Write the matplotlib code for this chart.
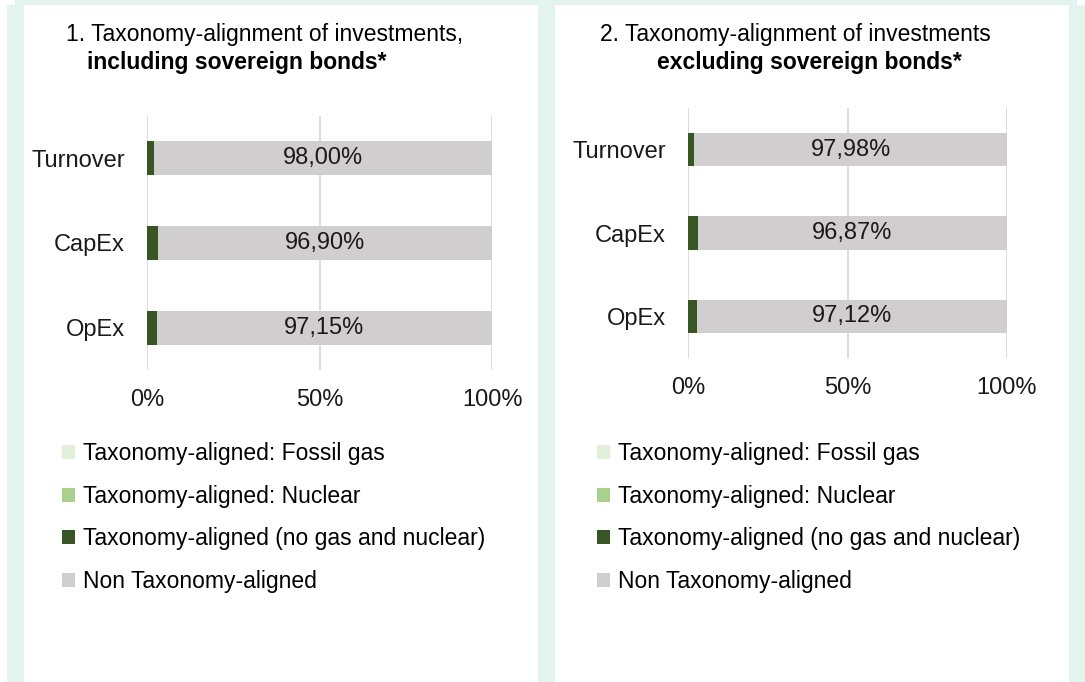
import matplotlib.pyplot as plt
from matplotlib.patches import Rectangle

plt.rcParams['font.family'] = ['Liberation Sans', 'DejaVu Sans']

# data
categories = ['Turnover', 'CapEx', 'OpEx']
series_names = ['Taxonomy-aligned: Fossil gas', 'Taxonomy-aligned: Nuclear',
                'Taxonomy-aligned (no gas and nuclear)', 'Non Taxonomy-aligned']
colors = ['#e2efda', '#a9d18e', '#375623', '#d0cece']

incl_gas = [0.0, 0.0, 0.0]
incl_nuclear = [0.0, 0.0, 0.0]
incl_aligned = [2.00, 3.10, 2.85]
incl_non = [98.00, 96.90, 97.15]

excl_gas = [0.0, 0.0, 0.0]
excl_nuclear = [0.0, 0.0, 0.0]
excl_aligned = [2.02, 3.13, 2.88]
excl_non = [97.98, 96.87, 97.12]

x_ticks = [0, 50, 100]
x_tick_labels = ['0%', '50%', '100%']

W, H = 1085, 682
fig = plt.figure(figsize=(W / 100, H / 100), dpi=100)
mint = '#e3f3ee'
fs_text = 16.5
fs_axis = 17


def px_rect(x0, y0, x1, y1):
    fig.patches.append(Rectangle((x0 / W, 1 - y1 / H), (x1 - x0) / W, (y1 - y0) / H,
                                 transform=fig.transFigure, facecolor=mint,
                                 edgecolor='none', zorder=0))


# panel frame
px_rect(15, 0, 1077, 5)
px_rect(7, 5, 24, H)
px_rect(538, 5, 555, H)
px_rect(1069, 5, W, H)


def draw_panel(rect, series, title1, title2, t1x, t2x, ty, legend_xy):
    ax = fig.add_axes(rect)
    ypos = range(len(categories))
    left = [0.0] * len(categories)
    bars = []
    for vals, name, c in zip(series, series_names, colors):
        b = ax.barh(ypos, vals, left=left, height=0.4, color=c, label=name, zorder=2)
        bars.append(b)
        left = [l + v for l, v in zip(left, vals)]
    # value labels on the non-aligned part
    starts = [a + b + c for a, b, c in zip(*series[:3])]
    for i, (l, v) in enumerate(zip(starts, series[3])):
        ax.text(l + v / 2, i, f'{v:.2f}%'.replace('.', ','), ha='center', va='center',
                fontsize=fs_axis, color='#1a1a1a', zorder=3)
    ax.set_xlim(0, 100)
    ax.set_ylim(2.5, -0.5)
    ax.set_yticks(list(ypos))
    ax.set_yticklabels(categories)
    ax.set_xticks(x_ticks)
    ax.set_xticklabels(x_tick_labels)
    ax.tick_params(length=0, labelsize=fs_axis, colors='#1a1a1a')
    ax.tick_params(axis='y', pad=16)
    ax.tick_params(axis='x', pad=14)
    ax.grid(axis='x', color='#d9d9d9', linewidth=1.3, zorder=0)
    ax.set_axisbelow(True)
    for s in ax.spines.values():
        s.set_visible(False)
    fig.text(t1x / W, 1 - ty / H, title1, ha='center', va='center', fontsize=fs_text)
    fig.text(t2x / W, 1 - (ty + 27) / H, title2, ha='center', va='center',
             fontsize=fs_text, fontweight='bold')
    fig.legend(handles=bars, loc='upper left',
               bbox_to_anchor=(legend_xy[0] / W, 1 - legend_xy[1] / H),
               frameon=False, fontsize=fs_text, handlelength=0.55, handleheight=0.55,
               handletextpad=0.35, labelspacing=0.86, borderpad=0, borderaxespad=0)
    return ax


draw_panel([147 / W, 1 - 370 / H, 345 / W, 254 / H],
           [incl_gas, incl_nuclear, incl_aligned, incl_non],
           '1. Taxonomy-alignment of investments,', 'including sovereign bonds*',
           265, 237, 35, (62, 442))
draw_panel([688 / W, 1 - 358 / H, 319 / W, 250 / H],
           [excl_gas, excl_nuclear, excl_aligned, excl_non],
           '2. Taxonomy-alignment of investments', 'excluding sovereign bonds*',
           795, 809, 35, (597, 442))

fig.savefig('out.png', dpi=100, facecolor='white')
